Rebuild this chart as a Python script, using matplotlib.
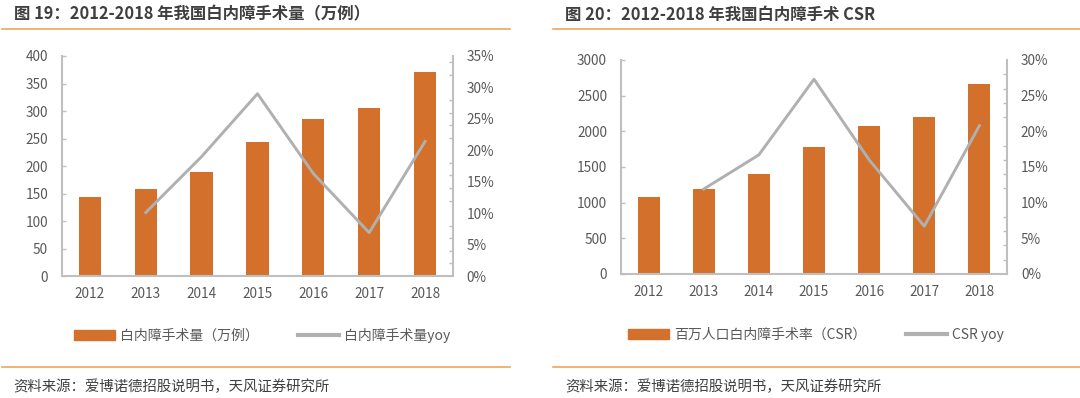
import matplotlib
matplotlib.use('Agg')
import matplotlib.pyplot as plt
from matplotlib.lines import Line2D
from matplotlib.patches import Patch
from matplotlib.ticker import MultipleLocator, FuncFormatter
import numpy as np

plt.rcParams['font.family'] = ['Noto Sans CJK SC', 'DejaVu Sans']

years = ['2012', '2013', '2014', '2015', '2016', '2017', '2018']

# 图19 白内障手术量（万例）及同比
surgery_vol = [144, 159, 190, 244, 285, 306, 371]
surgery_yoy = [None, 10.1, 19.0, 29.0, 16.3, 6.9, 21.4]

# 图20 百万人口白内障手术率（CSR）及同比
csr = [1080, 1196, 1398, 1785, 2079, 2205, 2664]
csr_yoy = [None, 11.9, 16.7, 27.3, 16.0, 6.7, 20.8]

BAR = '#D2702C'
LINE = '#B0B0B0'
AXIS = '#BFBFBF'
TXT = '#595959'
RULE = '#EBA65E'

fig = plt.figure(figsize=(10.8, 3.98), dpi=100)


def panel(rect, vals, yoy, ymax, ystep, rmax, bar_label, line_label, leg_x):
    ax = fig.add_axes(rect)
    x = np.arange(len(years))
    ax.bar(x, vals, width=0.4, color=BAR, zorder=2)
    ax.set_xlim(-0.5, len(years) - 0.5)
    ax.set_ylim(0, ymax)
    ax.yaxis.set_major_locator(MultipleLocator(ystep))
    ax.set_xticks(x)
    ax.set_xticklabels(years)
    for s in ['top', 'right']:
        ax.spines[s].set_visible(False)
    for s in ['left', 'bottom']:
        ax.spines[s].set_color(AXIS)
        ax.spines[s].set_linewidth(1.5)
    ax.tick_params(axis='x', length=0, pad=8, labelsize=9.8, labelcolor=TXT)
    ax.tick_params(axis='y', direction='in', length=3, width=1, color=AXIS,
                   pad=10, labelsize=9.8, labelcolor=TXT)

    ax2 = ax.twinx()
    xs = [i for i, v in enumerate(yoy) if v is not None]
    ys = [v for v in yoy if v is not None]
    ax2.plot(xs, ys, color=LINE, lw=2.1, zorder=3)
    ax2.set_ylim(0, rmax)
    ax2.yaxis.set_major_locator(MultipleLocator(5))
    ax2.yaxis.set_minor_locator(MultipleLocator(2))
    ax2.yaxis.set_major_formatter(FuncFormatter(lambda v, p: '%d%%' % v))
    for s in ['top', 'left', 'bottom']:
        ax2.spines[s].set_visible(False)
    ax2.spines['right'].set_color(AXIS)
    ax2.spines['right'].set_linewidth(1.5)
    ax2.tick_params(axis='y', which='major', length=0, pad=10, labelsize=9.8,
                    labelcolor=TXT)
    ax2.tick_params(axis='y', which='minor', direction='in', length=3,
                    width=1, color=AXIS)

    handles = [Patch(color=BAR, label=bar_label),
               Line2D([], [], color=LINE, lw=3, label=line_label)]
    fig.legend(handles=handles, loc='center', bbox_to_anchor=(leg_x, 0.158),
               ncol=2, frameon=False, fontsize=10, handlelength=2.95,
               handletextpad=0.4, columnspacing=2.8, labelcolor=TXT)
    return ax


panel([0.0574, 0.3065, 0.362, 0.5528], surgery_vol, surgery_yoy, 400, 50, 35,
      '白内障手术量（万例）', '白内障手术量yoy', 0.2426)
panel([0.575, 0.3116, 0.3574, 0.5377], csr, csr_yoy, 3000, 500, 30,
      '百万人口白内障手术率（CSR）', 'CSR yoy', 0.7556)

# 标题、分隔线和资料来源
fig.text(0.013, 0.964, '图 19：2012-2018 年我国白内障手术量（万例）',
         fontsize=11.8, fontweight='bold', color='#3F3F3F', va='center')
fig.text(0.523, 0.962, '图 20：2012-2018 年我国白内障手术 CSR',
         fontsize=11.8, fontweight='bold', color='#3F3F3F', va='center')
for x0, x1 in [(0.002, 0.472), (0.512, 1.0)]:
    fig.add_artist(Line2D([x0, x1], [0.926, 0.926], color=RULE, lw=1.2))
    fig.add_artist(Line2D([x0, x1], [0.078, 0.078], color=RULE, lw=1.2))
fig.text(0.012, 0.028, '资料来源：爱博诺德招股说明书，天风证券研究所',
         fontsize=10.4, color='#404040', va='center')
fig.text(0.523, 0.028, '资料来源：爱博诺德招股说明书，天风证券研究所',
         fontsize=10.4, color='#404040', va='center')

fig.savefig('out.png', dpi=100, facecolor='white')
